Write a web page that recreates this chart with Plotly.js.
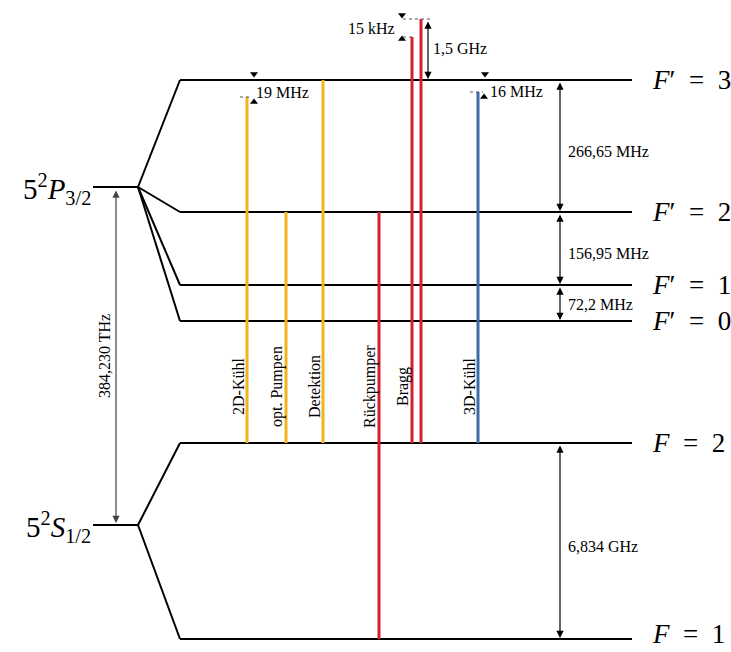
<!DOCTYPE html>
<html><head><meta charset="utf-8">
<script src="https://cdn.plot.ly/plotly-3.0.1.min.js"></script>
<style>html,body{margin:0;padding:0;background:#fff}</style>
</head><body><div id="chart" style="width:731px;height:652px"></div>
<script>
// Hyperfine levels (schematic heights in diagram units, top = 0)
const levelNames = ["<i>F</i>′\u2002=\u20023", "<i>F</i>′\u2002=\u20022", "<i>F</i>′\u2002=\u20021", "<i>F</i>′\u2002=\u20020", "<i>F</i>\u2002=\u20022", "<i>F</i>\u2002=\u20021"];
const levelY = [80, 212, 285, 321, 443, 639];
// Fine-structure levels
const fineNames = ["5<sup>2</sup><i>P</i><sub>3/2</sub>", "5<sup>2</sup><i>S</i><sub>1/2</sub>"];
const fineY = [187, 525];
const fineChildren = [[0, 1, 2, 3], [4, 5]];
const fineGapLabel = "384,230 THz";
// Splittings
const splitLabels = ["266,65 MHz", "156,95 MHz", "72,2 MHz", "6,834 GHz"];
const splitFrom = [0, 1, 2, 4];
const splitTo = [1, 2, 3, 5];
// Laser transitions
const laserNames = ["2D-Kühl", "opt. Pumpen", "Detektion", "Rückpumper", "Bragg", "", "3D-Kühl"];
const laserX = [247, 286, 323, 379, 412, 421, 478];
const laserTop = [97, 212, 80, 212, 37, 19, 92];
const laserBottom = [443, 443, 443, 639, 443, 443, 443];
const laserKind = ["o", "o", "o", "r", "r", "r", "b"];
// Detunings
const detuneLabels = ["19 MHz", "16 MHz", "15 kHz", "1,5 GHz"];

const colors = {o: "#F4B21B", r: "#D7202F", b: "#3C6BA8"};
const serif = "Liberation Serif, DejaVu Serif, serif";
const X0 = 180, X1 = 632, XS0 = 93, XS1 = 138;

const traces = [];
const ann = [];
function seg(xs, ys, color, width, dash) {
  traces.push({type: "scatter", mode: "lines", x: xs, y: ys, hoverinfo: "skip",
    line: {color: color, width: width, dash: dash || "solid"}, showlegend: false});
}
function marker(x, y, sym) {
  traces.push({type: "scatter", mode: "markers", x: [x], y: [y], hoverinfo: "skip", showlegend: false,
    marker: {symbol: sym, size: 7, color: "#000"}});
}
function text(x, y, t, size, xa, ya, angle) {
  ann.push({x: x, y: y, xref: "x", yref: "y", text: t, showarrow: false,
    xanchor: xa || "center", yanchor: ya || "middle", textangle: angle || 0,
    font: {family: serif, size: size, color: "#000"}});
}
function darrow(x, y0, y1, color) {
  ann.push({x: x, y: y1, ax: x, ay: y0, xref: "x", yref: "y", axref: "x", ayref: "y",
    text: "", showarrow: true, arrowside: "end+start", arrowhead: 2, startarrowhead: 2,
    arrowsize: 1.2, startarrowsize: 1.2, arrowwidth: 1.2, arrowcolor: color || "#000", standoff: 0, startstandoff: 0});
}

// levels
levelY.forEach((y, i) => {
  const yy = Math.min(y, 634);
  text(650, yy, levelNames[i], 27, "left", "middle");
  seg([X0, X1], [y, y], "#000", 2.2);
});
// fine levels and fan lines
fineY.forEach((y, i) => {
  seg([XS0, XS1], [y, y], "#000", 2.2);
  text(93, y + 2, fineNames[i], 29, "right", "middle");
  fineChildren[i].forEach(k => seg([XS1, X0], [y, levelY[k]], "#000", 2));
});
// fine gap arrow
darrow(116, fineY[0] + 2, fineY[1] - 2, "#444");
text(104, (fineY[0] + fineY[1]) / 2, fineGapLabel, 16, "center", "middle", -90);

// splittings
splitLabels.forEach((lab, i) => {
  const a = levelY[splitFrom[i]], b = levelY[splitTo[i]];
  darrow(560, a + 1, b - 1);
  text(566, (a + b) / 2 + (b - a > 60 ? 5 : 1), lab, 16, "left", "middle");
});

// lasers
laserX.forEach((x, i) => {
  seg([x, x], [laserTop[i], laserBottom[i]], colors[laserKind[i]], 3);
  if (laserNames[i]) text(x - 9, 387, laserNames[i], 16, "center", "middle", -90);
});

// 19 MHz detuning (2D-Kühl)
marker(254, 74, "triangle-down");
seg([240, 252], [97, 97], "#555", 1, "dot");
marker(254, 102, "triangle-up");
text(254, 92, detuneLabels[0], 16, "left", "middle");
// 16 MHz detuning (3D-Kühl)
marker(485, 74, "triangle-down");
seg([470, 483], [92, 92], "#555", 1, "dot");
marker(484, 97, "triangle-up");
text(488, 91, detuneLabels[1], 16, "left", "middle");
// 15 kHz (Bragg)
marker(402, 15, "triangle-down");
seg([403, 430], [19, 19], "#555", 1, "dot");
marker(402, 39, "triangle-up");
seg([403, 412], [37, 37], "#555", 1, "dot");
text(397, 28, detuneLabels[2], 16, "right", "middle");
// 1,5 GHz
darrow(428, 20, levelY[0] - 1);
text(431, 48, detuneLabels[3], 16, "left", "middle");

Plotly.newPlot("chart", traces, {
  width: 731, height: 652, margin: {l: 0, r: 0, t: 0, b: 0},
  paper_bgcolor: "#fff", plot_bgcolor: "#fff", showlegend: false,
  xaxis: {range: [0, 731], visible: false, fixedrange: true},
  yaxis: {range: [652, 0], visible: false, fixedrange: true},
  annotations: ann
}, {staticPlot: true});
</script></body></html>
